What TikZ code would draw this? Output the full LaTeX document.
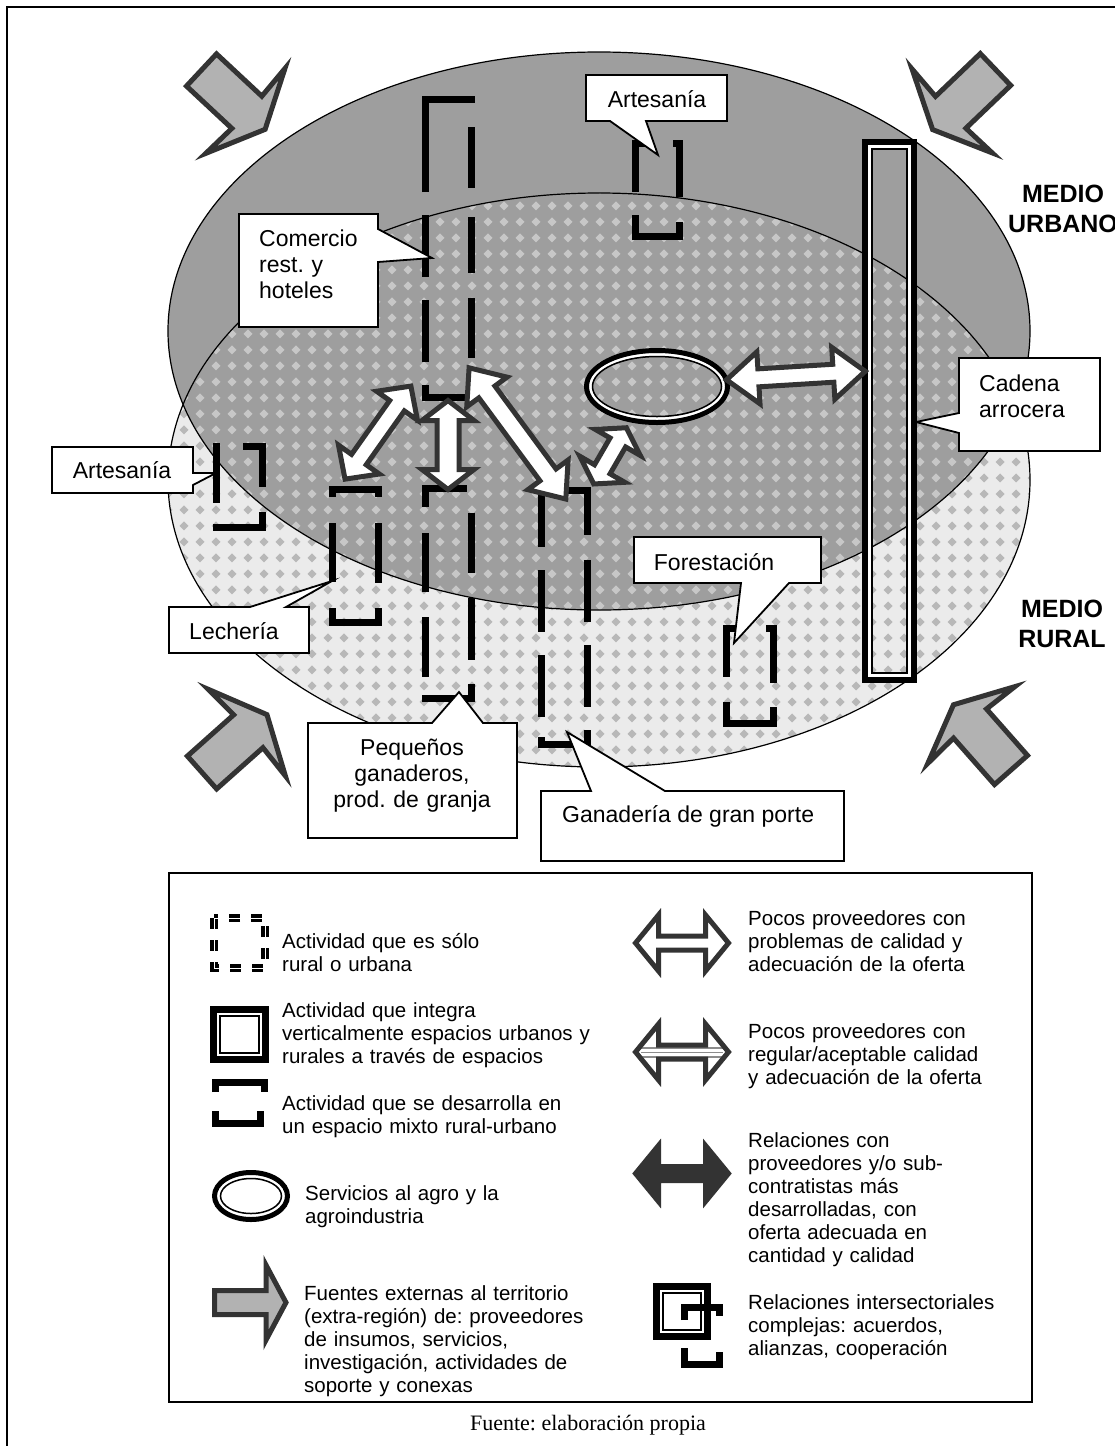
\documentclass[tikz,border=0pt]{standalone}
\usepackage{fontspec}
\setmainfont{Liberation Sans}
\newfontfamily\serifnf{Liberation Serif}
\usetikzlibrary{patterns}
\definecolor{darkline}{RGB}{51,51,51}
\frenchspacing
\pgfdeclarepatternformonly{diamonddots}{\pgfpoint{-1pt}{-1pt}}{\pgfpoint{17pt}{17pt}}{\pgfpoint{16pt}{16pt}}{%
  \pgfpathmoveto{\pgfpoint{8pt}{3.5pt}}%
  \pgfpathlineto{\pgfpoint{12.5pt}{8pt}}%
  \pgfpathlineto{\pgfpoint{8pt}{12.5pt}}%
  \pgfpathlineto{\pgfpoint{3.5pt}{8pt}}%
  \pgfpathclose
  \pgfusepath{fill}}
% double-headed block arrow along local x: #1 style, #2 length, #3 head length, #4 head half width, #5 shaft half width
\newcommand{\DblArr}[5]{%
  \draw[#1] (3.5,0) -- ({3.5+#3},{#4}) -- ({3.5+#3},{#5}) -- ({#2-3.5-#3},{#5}) -- ({#2-3.5-#3},{#4}) -- ({#2-3.5},0)
    -- ({#2-3.5-#3},{-#4}) -- ({#2-3.5-#3},{-#5}) -- ({3.5+#3},{-#5}) -- ({3.5+#3},{-#4}) -- cycle;}
\newcommand{\ExtArr}{%
  \draw[extarrow] (0,-22) -- (62,-22) -- (60,-58) -- (87,0) -- (60,58) -- (62,22) -- (0,22) -- cycle;}
\begin{document}
\begin{tikzpicture}[x=1pt,y=-1pt,
  dashseg/.style={line width=7pt, line cap=butt, line join=miter},
  callout/.style={draw=black, line width=1.8pt, fill=white, line join=miter},
  wharrow/.style={draw=darkline, line width=5pt, fill=white, line join=miter},
  extarrow/.style={draw=darkline, line width=5pt, fill=black!30, line join=miter},
  ctext/.style={font=\fontsize{23}{26}\selectfont, inner sep=0pt},
  ltext/.style={font=\fontsize{20.5}{23}\selectfont, inner sep=0pt, anchor=base west, text width=420pt, align=left},
  medio/.style={font=\bfseries\fontsize{25}{30}\selectfont, inner sep=0pt, anchor=base, text width=140pt, align=center}]
\useasboundingbox (0,0) rectangle (1115,1446);
\clip (0,0) rectangle (1115,1446);
\fill[white] (0,0) rectangle (1115,1446);
\draw[line width=2pt] (7,7) rectangle (1130,1470);

% ---- territory ellipses ----
\fill[black!8] (599,480) ellipse [x radius=431pt, y radius=287pt];
\fill[pattern=diamonddots, pattern color=black!28] (599,480) ellipse [x radius=431pt, y radius=287pt];
\fill[black!38] (599,331) ellipse [x radius=431pt, y radius=279pt];
\begin{scope}
  \clip (599,480) ellipse [x radius=431pt, y radius=287pt];
  \fill[pattern=diamonddots, pattern color=black!22] (599,331) ellipse [x radius=431pt, y radius=279pt];
\end{scope}
\draw[line width=1.2pt] (599,331) ellipse [x radius=431pt, y radius=279pt];
\draw[line width=1.2pt] (599,480) ellipse [x radius=431pt, y radius=287pt];

% ---- external source arrows ----
\begin{scope}[shift={(201.5,70)}, rotate=-43] \ExtArr \end{scope}
\begin{scope}[shift={(995.5,69.5)}, rotate=-136.3] \ExtArr \end{scope}
\begin{scope}[shift={(202,772.5)}, rotate=41.7] \ExtArr \end{scope}
\begin{scope}[shift={(1011,770)}, rotate=131.4] \ExtArr \end{scope}

% ---- activities ----
% Comercio (long dashed)
\draw[dashseg] (425,192) -- (425,99) -- (474.5,99);
\draw[dashseg] (471,127) -- (471,188);
\draw[dashseg] (471,217) -- (471,273);
\draw[dashseg] (471,298) -- (471,358);
\draw[dashseg] (425,215) -- (425,277);
\draw[dashseg] (425,300) -- (425,362);
\draw[dashseg] (425,385) -- (425,397) -- (467,397);
% Pequenos ganaderos
\draw[dashseg] (425,507) -- (425,488) -- (467,488);
\draw[dashseg] (471,513) -- (471,573);
\draw[dashseg] (471,598) -- (471,660);
\draw[dashseg] (471,684) -- (471,698) -- (421.5,698);
\draw[dashseg] (425,533) -- (425,592);
\draw[dashseg] (425,617) -- (425,677);
% Ganaderia de gran porte
\draw[dashseg] (541,547) -- (541,490) -- (587,490) -- (587,535);
\draw[dashseg] (541,570) -- (541,632);
\draw[dashseg] (541,655) -- (541,717);
\draw[dashseg] (541,737) -- (541,744) -- (575,744);
\draw[dashseg] (587,560) -- (587,622);
\draw[dashseg] (587,645) -- (587,707);
\draw[dashseg] (587,730) -- (587,747.5);
% Artesania (top)
\draw[dashseg] (647,143) -- (635,143) -- (635,192);
\draw[dashseg] (673,143) -- (679,143) -- (679,197);
\draw[dashseg] (635,215) -- (635,236) -- (679,236) -- (679,222);
% Artesania (left)
\draw[dashseg] (216,443) -- (216,503);
\draw[dashseg] (243,446) -- (262,446) -- (262,487);
\draw[dashseg] (262,512) -- (262,527) -- (212.5,527);
% Lecheria
\draw[dashseg] (332,497) -- (332,489) -- (378,489) -- (378,497);
\draw[dashseg] (332,523) -- (332,582);
\draw[dashseg] (378,523) -- (378,583);
\draw[dashseg] (332,608) -- (332,622) -- (378,622) -- (378,608);
% Forestacion
\draw[dashseg] (735,628) -- (726,628) -- (726,677);
\draw[dashseg] (766,628) -- (773,628) -- (773,683);
\draw[dashseg] (726,702) -- (726,723) -- (773,723) -- (773,707);
% Cadena arrocera (double rectangle)
\draw[line width=6.4pt] (865.2,142.2) rectangle (913.8,679.8);
\draw[white, line width=2.5pt] (869.6,146.6) rectangle (909.4,675.4);
\draw[line width=1.8pt] (871.8,148.8) rectangle (907.2,673.2);
% Servicios al agro (double ellipse)
\draw[line width=5pt] (657,386.5) ellipse [x radius=70.5pt, y radius=36pt];
\draw[white, line width=2.5pt] (657,386.5) ellipse [x radius=66.5pt, y radius=32pt];
\draw[line width=1.5pt] (657,386.5) ellipse [x radius=64.5pt, y radius=30pt];

% ---- relations (white double arrows) ----
\begin{scope}[shift={(343,482)}, rotate=54.7] \DblArr{wharrow}{121}{24}{25}{9} \end{scope}
\begin{scope}[shift={(448,493)}, rotate=90] \DblArr{wharrow}{96}{20}{26}{11} \end{scope}
\begin{scope}[shift={(467,365)}, rotate=-53.6] \DblArr{wharrow}{170}{30}{25}{10} \end{scope}
\begin{scope}[shift={(592,487)}, rotate=59.9] \DblArr{wharrow}{72}{17}{26}{9} \end{scope}
\begin{scope}[shift={(723,380)}, rotate=3.5] \DblArr{wharrow}{146}{32}{26}{9} \end{scope}

% ---- callouts ----
\draw[callout] (239,214) -- (378,214) -- (378,229) -- (432,258) -- (378,262) -- (378,327) -- (239,327) -- cycle;
\node[ctext, anchor=base west, text width=115pt, align=left] (comercio) at (259,246) {Comercio\\rest. y\\hoteles};
\draw[callout] (586,75) -- (727,75) -- (727,121) -- (646,121) -- (658,155) -- (610,121) -- (586,121) -- cycle;
\node[ctext, anchor=base] (artesaniaA) at (657,107) {Artesanía};
\draw[callout] (959,358) -- (1100,358) -- (1100,451) -- (959,451) -- (959,433) -- (916,422) -- (959,413) -- cycle;
\node[ctext, anchor=base west, text width=115pt, align=left] (cadena) at (979,391) {Cadena\\arrocera};
\draw[callout] (52,447) -- (193,447) -- (193,473) -- (216,473) -- (193,485) -- (193,493) -- (52,493) -- cycle;
\node[ctext, anchor=base] (artesaniaB) at (122,478) {Artesanía};
\draw[callout] (169,607) -- (250,607) -- (332,581) -- (286,607) -- (309,607) -- (309,653) -- (169,653) -- cycle;
\node[ctext, anchor=base] (lecheria) at (234,639) {Lechería};
\draw[callout] (308,723) -- (432,723) -- (459,692) -- (483,723) -- (517,723) -- (517,838) -- (308,838) -- cycle;
\node[ctext, anchor=base, text width=200pt, align=center] (pequenos) at (412,755) {Pequeños\\ganaderos,\\prod. de granja};
\draw[callout] (541,791) -- (591,791) -- (567,732) -- (665,791) -- (844,791) -- (844,861) -- (541,861) -- cycle;
\node[ctext, anchor=base west] (ganaderia) at (562,822) {Ganadería de gran porte};
\draw[callout] (634,537) -- (821,537) -- (821,583) -- (789,583) -- (734,643) -- (741,583) -- (634,583) -- cycle;
\node[ctext, anchor=base] (forestacion) at (714,570) {Forestación};

\node[medio] (urbano) at (1063,202) {MEDIO\\URBANO};
\node[medio] (rural) at (1062,617) {MEDIO\\RURAL};

% ---- legend ----
\draw[line width=1.8pt] (169,873) rectangle (1032,1402);
% item 1
\draw[line width=3.3pt, double=white, double distance=1pt, dash pattern=on 11pt off 11pt] (214,918) rectangle (265,968);
\node[ltext] (l1) at (282,948) {Actividad que es sólo\\rural o urbana};
% item 2
\draw[line width=7pt] (213.5,1009.5) rectangle (265.5,1059.5);
\draw[line width=1.8pt] (220,1016) rectangle (259,1053);
\node[ltext] (l2) at (282,1017) {Actividad que integra\\verticalmente espacios urbanos y\\rurales a través de espacios};
% item 3
\draw[dashseg] (215.5,1092) -- (215.5,1082) -- (264,1082) -- (264,1092);
\draw[dashseg] (215.5,1111) -- (215.5,1123.5) -- (260,1123.5) -- (260,1111);
\node[ltext] (l3) at (282,1110) {Actividad que se desarrolla en\\un espacio mixto rural-urbano};
% item 4
\draw[line width=5pt] (251,1196) ellipse [x radius=36.5pt, y radius=23.5pt];
\draw[line width=1.5pt] (251,1196) ellipse [x radius=30.5pt, y radius=17.5pt];
\node[ltext] (l4) at (305,1200) {Servicios al agro y la\\agroindustria};
% item 5
\draw[extarrow] (214.5,1290.5) -- (266,1290.5) -- (266,1265) -- (286,1302.5) -- (266,1340) -- (266,1314.5) -- (214.5,1314.5) -- cycle;
\node[ltext] (l5) at (304,1300) {Fuentes externas al territorio\\(extra-región) de: proveedores\\de insumos, servicios,\\investigación, actividades de\\soporte y conexas};
% right column
\begin{scope}[shift={(632,943)}] \DblArr{wharrow}{100}{23}{28}{7} \end{scope}
\node[ltext, text width=280pt] (r1) at (748,925) {Pocos proveedores con\\problemas de calidad y\\adecuación de la oferta};
\begin{scope}[shift={(632,1052)}]
  \DblArr{fill=white, draw=none}{100}{23}{28}{7}
  \draw[black!45, line width=1.8pt] (9,-4) -- (91,-4) (9,0.5) -- (91,0.5) (9,5) -- (91,5);
  \DblArr{draw=darkline, line width=5pt, line join=miter}{100}{23}{28}{7}
\end{scope}
\node[ltext, text width=280pt] (r2) at (748,1038) {Pocos proveedores con\\regular/aceptable calidad\\y adecuación de la oferta};
\begin{scope}[shift={(632,1173.5)}] \DblArr{draw=darkline, fill=darkline, line width=5pt, line join=miter}{100}{23}{28}{7} \end{scope}
\node[ltext, text width=280pt] (r3) at (748,1147) {Relaciones con\\proveedores y/o sub-\\contratistas más\\desarrolladas, con\\oferta adecuada en\\cantidad y calidad};
% item complex
\draw[line width=7pt] (656.5,1286.5) rectangle (707.5,1336.5);
\draw[line width=1.6pt] (663,1293) rectangle (701,1330);
\draw[dashseg] (684,1320) -- (684,1307) -- (719,1307) -- (719,1316);
\draw[dashseg] (684,1348) -- (684,1364) -- (719,1364) -- (719,1352);
\node[ltext, text width=280pt] (r4) at (748,1309) {Relaciones intersectoriales\\complejas: acuerdos,\\alianzas, cooperación};

\node[font=\serifnf\fontsize{22}{24}\selectfont, anchor=base, inner sep=0pt] (fuente) at (588,1430) {Fuente: elaboración propia};
\end{tikzpicture}
\end{document}
